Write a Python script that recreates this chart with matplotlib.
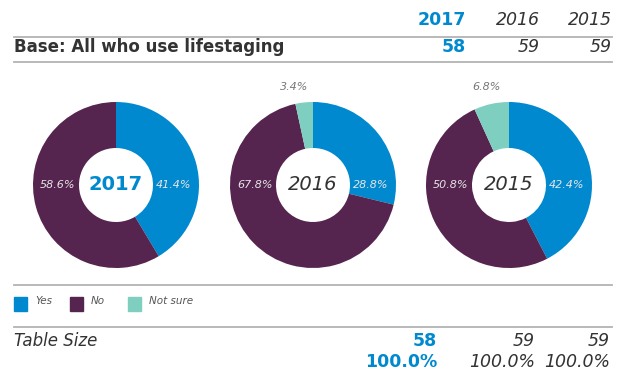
import matplotlib
matplotlib.use("Agg")
import matplotlib.pyplot as plt

# survey answers per year
years = ["2017", "2016", "2015"]
answers = ["Yes", "No", "Not sure"]
yes_pct = [41.4, 28.8, 42.4]
no_pct = [58.6, 67.8, 50.8]
unsure_pct = [0.0, 3.4, 6.8]
base_n = [58, 59, 59]
table_n = [58, 59, 59]
table_pct = ["100.0%", "100.0%", "100.0%"]

BLUE = "#0089cf"
PURPLE = "#55244f"
TEAL = "#7ecfc0"
DARK = "#333333"
GREY_LINE = "#b3b3b3"

plt.rcParams["font.family"] = ["DejaVu Sans"]

W, H = 624, 372
fig = plt.figure(figsize=(W / 100, H / 100), dpi=100)


def px(x, y):
    return x / W, 1 - y / H


def text(x, y, s, **kw):
    fig.text(*px(x, y), s, **kw)


def hline(y, x0=14, x1=612):
    fig.add_artist(plt.Line2D([x0 / W, x1 / W], [1 - y / H] * 2, color=GREY_LINE, lw=1.3))


def year_style(first, size):
    # current year is bold blue, older years plain italic
    return dict(fontsize=size, color=BLUE if first else DARK,
                fontweight="bold" if first else "normal",
                style="normal" if first else "italic")


# header
head_right = [466, 540, 612]
for i, yr in enumerate(years):
    st = year_style(i == 0, 12.5)
    text(head_right[i], 20, yr, ha="right", va="center", **st)
    text(head_right[i], 47, str(base_n[i]), ha="right", va="center", **st)
text(14, 47, "Base: All who use lifestaging", ha="left", va="center",
     fontsize=12, fontweight="bold", color=DARK)
hline(37)
hline(62)

# donuts
centers = [116, 313, 509]
cy, r_out, r_in = 185, 83, 37
for i, yr in enumerate(years):
    cx = centers[i]
    ax = fig.add_axes([(cx - r_out) / W, 1 - (cy + r_out) / H, 2 * r_out / W, 2 * r_out / H])
    vals = [yes_pct[i], no_pct[i], unsure_pct[i]]
    ax.pie(vals, colors=[BLUE, PURPLE, TEAL], startangle=90, counterclock=False,
           radius=1, wedgeprops=dict(width=1 - r_in / r_out, linewidth=0))
    ax.set_xlim(-1, 1)
    ax.set_ylim(-1, 1)
    ax.axis("off")

    text(cx, cy, yr, ha="center", va="center", **year_style(i == 0, 14))
    text(cx + 58, cy, f"{yes_pct[i]:.1f}%", ha="center", va="center",
         fontsize=8, style="italic", color="#e6e6e6")
    text(cx - 58, cy, f"{no_pct[i]:.1f}%", ha="center", va="center",
         fontsize=8, style="italic", color="#e6e6e6")
    if unsure_pct[i] > 0:
        text(cx - 16 - 0.9 * unsure_pct[i], 87, f"{unsure_pct[i]:.1f}%", ha="center",
             va="center", fontsize=8, style="italic", color="#777777")

# legend
hline(285)
leg_x = [14, 70, 128]
for lx, lab, col in zip(leg_x, answers, [BLUE, PURPLE, TEAL]):
    fig.add_artist(plt.Rectangle(px(lx, 311), 13 / W, 14 / H, color=col))
    text(lx + 21, 301, lab, ha="left", va="center", fontsize=7.5,
         style="italic", color="#555555")
hline(327)

# table size
text(14, 341, "Table Size", ha="left", va="center", fontsize=12,
     style="italic", color=DARK)
tab_right = [437, 535, 610]
for i in range(3):
    st = year_style(i == 0, 12.5)
    text(tab_right[i], 341, str(table_n[i]), ha="right", va="center", **st)
    text(tab_right[i], 362, table_pct[i], ha="right", va="center", **st)

fig.savefig("out.png", dpi=100, facecolor="white")
